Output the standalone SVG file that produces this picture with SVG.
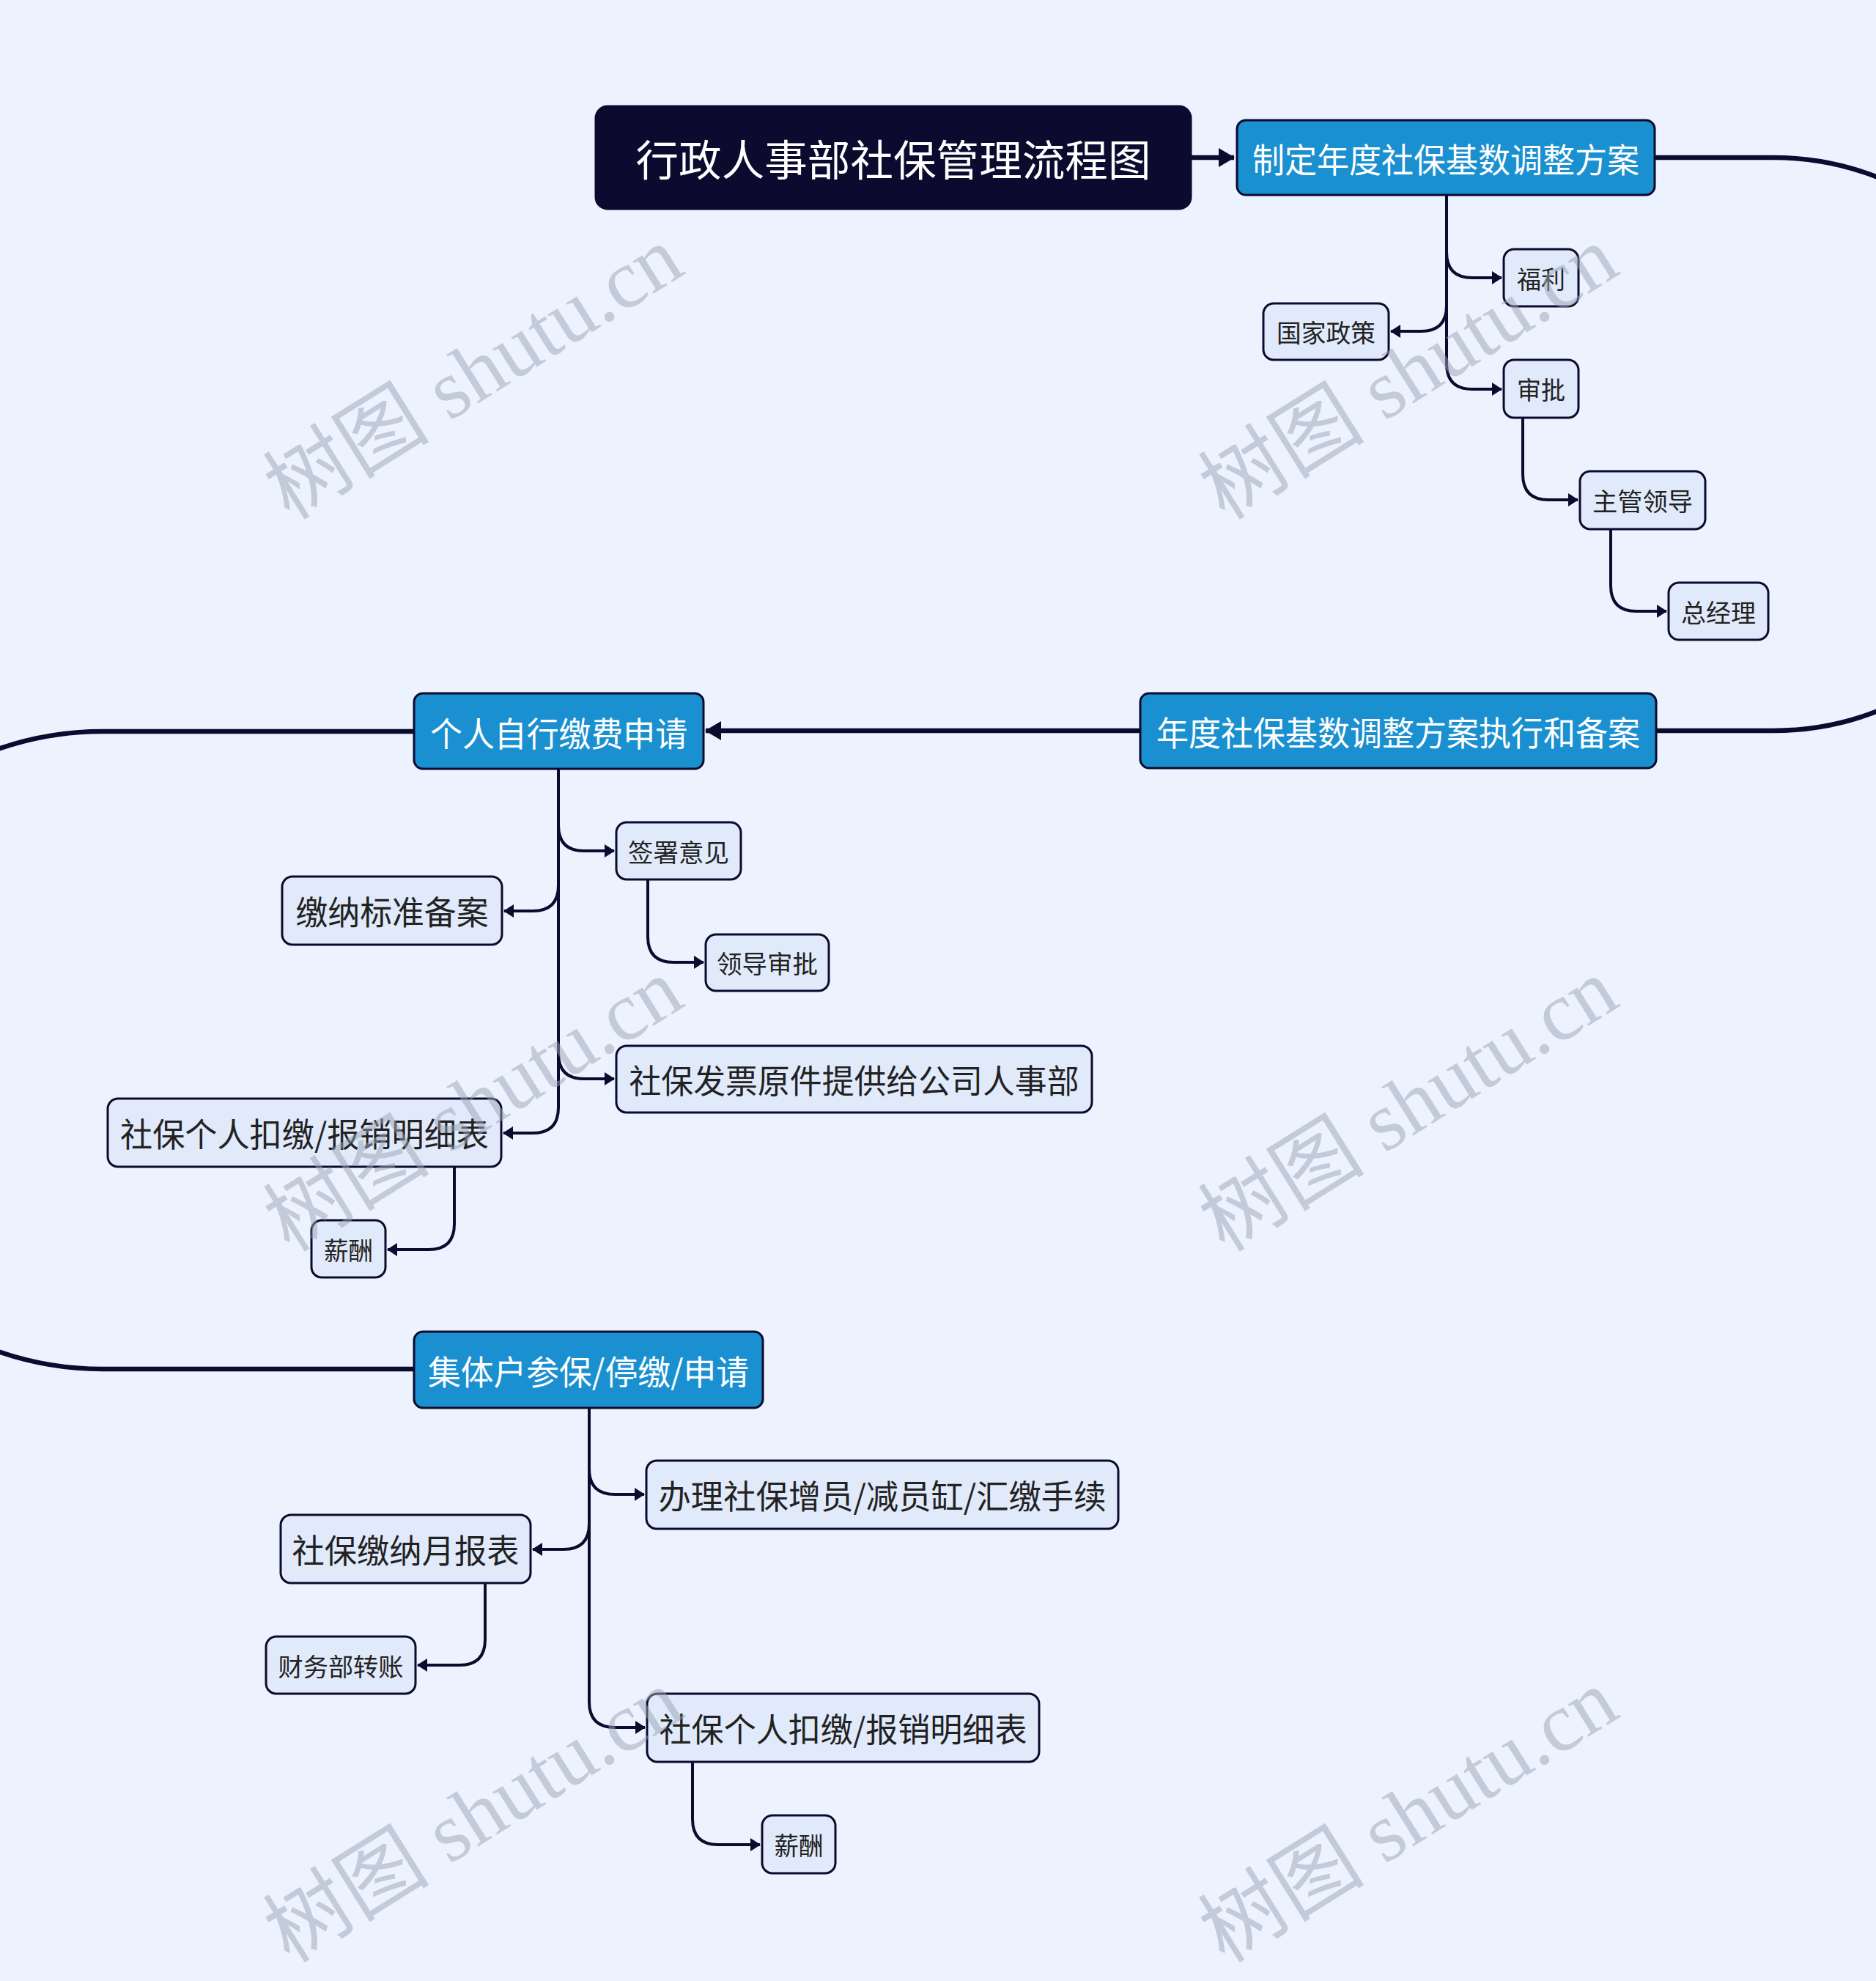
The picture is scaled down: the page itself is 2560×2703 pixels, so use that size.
<svg xmlns="http://www.w3.org/2000/svg" width="2560" height="2703" viewBox="0 0 2560 2703">
<defs>
<style>
.bg{fill:#edf3fe}
.root{fill:#0c0a2e;stroke:#0c0a2e;stroke-width:3}
.main{fill:#1a90d0;stroke:#0c0a2e;stroke-width:3}
.sub{fill:#e1eafb;stroke:#0c0a2e;stroke-width:3}
.tw{fill:#ffffff;font-family:"Noto Sans CJK SC","Noto Sans",sans-serif;text-anchor:middle;dominant-baseline:central}
.td{fill:#222222;font-family:"Noto Sans CJK SC","Noto Sans",sans-serif;text-anchor:middle;dominant-baseline:central}
.thick{fill:none;stroke:#0c0a2e;stroke-width:6.5}
.thin{fill:none;stroke:#0c0a2e;stroke-width:4}
.wm{fill:#9aa3b5;opacity:0.5;font-family:"Liberation Serif","Noto Sans CJK SC",serif;font-size:114px;text-anchor:middle;dominant-baseline:central}
</style>
<marker id="ah" viewBox="0 0 14 18" refX="13" refY="9" markerWidth="14" markerHeight="18" markerUnits="userSpaceOnUse" orient="auto">
<path d="M0,0 L14,9 L0,18 z" fill="#0c0a2e"/>
</marker>
<marker id="ahb" viewBox="0 0 22 26" refX="21" refY="13" markerWidth="22" markerHeight="26" markerUnits="userSpaceOnUse" orient="auto">
<path d="M0,0 L22,13 L0,26 z" fill="#0c0a2e"/>
</marker>
</defs>
<rect class="bg" x="0" y="0" width="2560" height="2703"/>

<g id="connectors">
<path class="thick" d="M1625,215 H1684" marker-end="url(#ahb)"/>
<path class="thick" d="M2258,215 H2420 A391,391 0 0 1 2420,997 H2260"/>
<path class="thick" d="M1556,997 H963" marker-end="url(#ahb)"/>
<path class="thick" d="M565,998 H140 A435,435 0 0 0 140,1868 H565"/>

<path class="thin" d="M1974,266 V344 Q1974,379 2009,379 H2049" marker-end="url(#ah)"/>
<path class="thin" d="M1974,266 V417 Q1974,452 1939,452 H1898" marker-end="url(#ah)"/>
<path class="thin" d="M1974,266 V496 Q1974,531 2009,531 H2049" marker-end="url(#ah)"/>
<path class="thin" d="M2078,570 V647 Q2078,682 2113,682 H2153" marker-end="url(#ah)"/>
<path class="thin" d="M2198,722 V799 Q2198,834 2233,834 H2274" marker-end="url(#ah)"/>

<path class="thin" d="M762,1049 V1126 Q762,1161 797,1161 H838" marker-end="url(#ah)"/>
<path class="thin" d="M762,1049 V1208 Q762,1243 727,1243 H688" marker-end="url(#ah)"/>
<path class="thin" d="M762,1049 V1437 Q762,1472 797,1472 H838" marker-end="url(#ah)"/>
<path class="thin" d="M762,1049 V1511 Q762,1546 727,1546 H687" marker-end="url(#ah)"/>
<path class="thin" d="M884,1200 V1278 Q884,1313 919,1313 H960" marker-end="url(#ah)"/>
<path class="thin" d="M620,1592 V1670 Q620,1705 585,1705 H529" marker-end="url(#ah)"/>

<path class="thin" d="M804,1921 V2004 Q804,2039 839,2039 H879" marker-end="url(#ah)"/>
<path class="thin" d="M804,1921 V2079 Q804,2114 769,2114 H727" marker-end="url(#ah)"/>
<path class="thin" d="M804,1921 V2322 Q804,2357 839,2357 H880" marker-end="url(#ah)"/>
<path class="thin" d="M662,2160 V2237 Q662,2272 627,2272 H570" marker-end="url(#ah)"/>
<path class="thin" d="M945,2404 V2482 Q945,2517 980,2517 H1037" marker-end="url(#ah)"/>
</g>

<g id="root"><rect class="root" x="813" y="145" width="812" height="140" rx="16"/><text class="tw" x="1219" y="215" font-size="58" textLength="703" lengthAdjust="spacingAndGlyphs">行政人事部社保管理流程图</text></g>
<g id="n-zhiding"><rect class="main" x="1688" y="164" width="570" height="102" rx="12"/><text class="tw" x="1973" y="215" font-size="46" textLength="528" lengthAdjust="spacingAndGlyphs">制定年度社保基数调整方案</text></g>
<g id="n-fuli"><rect class="sub" x="2052" y="340" width="102" height="78" rx="14"/><text class="td" x="2103" y="379" font-size="34" textLength="66" lengthAdjust="spacingAndGlyphs">福利</text></g>
<g id="n-guojia"><rect class="sub" x="1724" y="414" width="171" height="77" rx="14"/><text class="td" x="1809.5" y="452.5" font-size="34" textLength="135" lengthAdjust="spacingAndGlyphs">国家政策</text></g>
<g id="n-shenpi"><rect class="sub" x="2052" y="491" width="102" height="79" rx="14"/><text class="td" x="2103" y="530.5" font-size="34" textLength="66" lengthAdjust="spacingAndGlyphs">审批</text></g>
<g id="n-zhuguan"><rect class="sub" x="2156" y="643" width="171" height="79" rx="14"/><text class="td" x="2241.5" y="682.5" font-size="34" textLength="137" lengthAdjust="spacingAndGlyphs">主管领导</text></g>
<g id="n-zongjingli"><rect class="sub" x="2277" y="795" width="136" height="78" rx="14"/><text class="td" x="2345" y="834" font-size="34" textLength="102" lengthAdjust="spacingAndGlyphs">总经理</text></g>

<g id="n-niandu"><rect class="main" x="1556" y="946" width="704" height="102" rx="12"/><text class="tw" x="1908" y="997" font-size="46" textLength="660" lengthAdjust="spacingAndGlyphs">年度社保基数调整方案执行和备案</text></g>
<g id="n-geren"><rect class="main" x="565" y="946" width="395" height="103" rx="12"/><text class="tw" x="762.5" y="997.5" font-size="46" textLength="351" lengthAdjust="spacingAndGlyphs">个人自行缴费申请</text></g>
<g id="n-qianshu"><rect class="sub" x="841" y="1122" width="170" height="78" rx="14"/><text class="td" x="926" y="1161" font-size="34" textLength="138" lengthAdjust="spacingAndGlyphs">签署意见</text></g>
<g id="n-lingdao"><rect class="sub" x="963" y="1275" width="168" height="77" rx="14"/><text class="td" x="1047" y="1313.5" font-size="34" textLength="138" lengthAdjust="spacingAndGlyphs">领导审批</text></g>
<g id="n-jiaona"><rect class="sub" x="385" y="1196" width="300" height="93" rx="14"/><text class="td" x="535" y="1242.5" font-size="45" textLength="263" lengthAdjust="spacingAndGlyphs">缴纳标准备案</text></g>
<g id="n-fapiao"><rect class="sub" x="841" y="1427" width="649" height="91" rx="14"/><text class="td" x="1165.5" y="1472.5" font-size="45" textLength="614" lengthAdjust="spacingAndGlyphs">社保发票原件提供给公司人事部</text></g>
<g id="n-koujiao1"><rect class="sub" x="147" y="1499" width="537" height="93" rx="14"/><text class="td" x="415.5" y="1545.5" font-size="45" textLength="503" lengthAdjust="spacingAndGlyphs">社保个人扣缴/报销明细表</text></g>
<g id="n-xinchou1"><rect class="sub" x="425" y="1665" width="101" height="78" rx="14"/><text class="td" x="475.5" y="1704" font-size="34" textLength="67" lengthAdjust="spacingAndGlyphs">薪酬</text></g>

<g id="n-jiti"><rect class="main" x="565" y="1817" width="476" height="104" rx="12"/><text class="tw" x="803" y="1869" font-size="46" textLength="438" lengthAdjust="spacingAndGlyphs">集体户参保/停缴/申请</text></g>
<g id="n-banli"><rect class="sub" x="882" y="1993" width="644" height="93" rx="14"/><text class="td" x="1204" y="2039.5" font-size="45" textLength="611" lengthAdjust="spacingAndGlyphs">办理社保增员/减员缸/汇缴手续</text></g>
<g id="n-yuebao"><rect class="sub" x="383" y="2067" width="341" height="93" rx="14"/><text class="td" x="553.5" y="2113.5" font-size="45" textLength="310" lengthAdjust="spacingAndGlyphs">社保缴纳月报表</text></g>
<g id="n-caiwu"><rect class="sub" x="363" y="2233" width="204" height="78" rx="14"/><text class="td" x="465" y="2272" font-size="34" textLength="171" lengthAdjust="spacingAndGlyphs">财务部转账</text></g>
<g id="n-koujiao2"><rect class="sub" x="883" y="2311" width="535" height="93" rx="14"/><text class="td" x="1150.5" y="2357.5" font-size="45" textLength="502" lengthAdjust="spacingAndGlyphs">社保个人扣缴/报销明细表</text></g>
<g id="n-xinchou2"><rect class="sub" x="1040" y="2477" width="100" height="79" rx="14"/><text class="td" x="1090" y="2516.5" font-size="34" textLength="67" lengthAdjust="spacingAndGlyphs">薪酬</text></g>

<g id="watermarks">
<text class="wm" transform="translate(646,509) rotate(-32)">树图 shutu.cn</text>
<text class="wm" transform="translate(1922,509) rotate(-32)">树图 shutu.cn</text>
<text class="wm" transform="translate(646,1508) rotate(-32)">树图 shutu.cn</text>
<text class="wm" transform="translate(1922,1508) rotate(-32)">树图 shutu.cn</text>
<text class="wm" transform="translate(646,2478) rotate(-32)">树图 shutu.cn</text>
<text class="wm" transform="translate(1922,2478) rotate(-32)">树图 shutu.cn</text>
</g>
</svg>
